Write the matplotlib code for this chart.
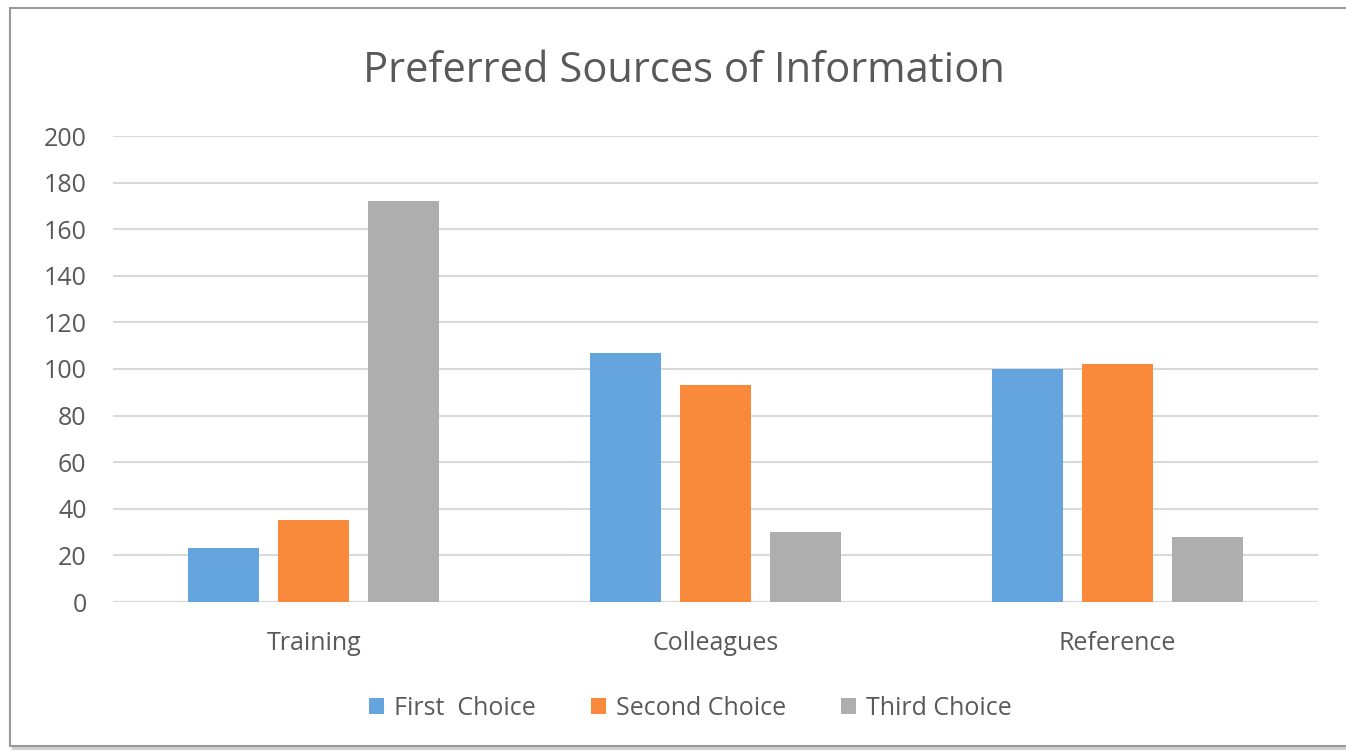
import numpy as np
import matplotlib.pyplot as plt
from matplotlib.patches import Rectangle

categories = ["Training", "Colleagues", "Reference"]
series_names = ["First  Choice", "Second Choice", "Third Choice"]
first_choice = [23, 107, 100]
second_choice = [35, 93, 102]
third_choice = [172, 30, 28]
y_ticks = [0, 20, 40, 60, 80, 100, 120, 140, 160, 180, 200]

colors = ["#64a5e0", "#f98a3b", "#aeaeae"]
text_color = "#595959"

plt.rcParams["font.family"] = ["Open Sans", "DejaVu Sans"]

fig = plt.figure(figsize=(13.46, 7.52), dpi=100)

# chart frame with a soft shadow
fig.patches.append(Rectangle((12 / 1346, 2 / 752), 1.0, 740 / 752, transform=fig.transFigure,
                             facecolor="#d0d0d0", edgecolor="none", zorder=0))
fig.patches.append(Rectangle((10 / 1346, 6 / 752), 1.0, 738 / 752, transform=fig.transFigure,
                             facecolor="white", edgecolor="#9a9a9a", linewidth=1.5, zorder=1))

ax = fig.add_axes([113 / 1346, 150 / 752, 1205 / 1346, 466 / 752])
ax.set_zorder(2)
ax.patch.set_alpha(0)

x = np.arange(len(categories))
offset = 0.224
width = 0.177
all_series = [first_choice, second_choice, third_choice]
for i, vals in enumerate(all_series):
    ax.bar(x + (i - 1) * offset, vals, width, color=colors[i], label=series_names[i], zorder=3)

ax.set_xlim(-0.5, 2.5)
ax.set_ylim(0, 200)
ax.set_yticks(y_ticks)
ax.set_xticks(x)
ax.set_xticklabels(categories)
ax.tick_params(axis="both", length=0, labelsize=18, colors=text_color)
ax.tick_params(axis="y", pad=19)
ax.tick_params(axis="x", pad=21)
ax.grid(axis="y", color="#d9d9d9", linewidth=1.5, zorder=0)
ax.set_axisbelow(True)
for s in ax.spines.values():
    s.set_visible(False)
ax.axhline(0, color="#d9d9d9", linewidth=1.5, zorder=1)

fig.text(0.508, 0.906, "Preferred Sources of Information", ha="center", va="center",
         fontsize=30, color=text_color)

leg = fig.legend(loc="center", bbox_to_anchor=(0.513, 0.058), ncol=3, frameon=False,
                 fontsize=18, handlelength=0.6, handleheight=0.6, handletextpad=0.4,
                 columnspacing=2.2)
for t in leg.get_texts():
    t.set_color(text_color)

fig.savefig("out.png", dpi=100)
